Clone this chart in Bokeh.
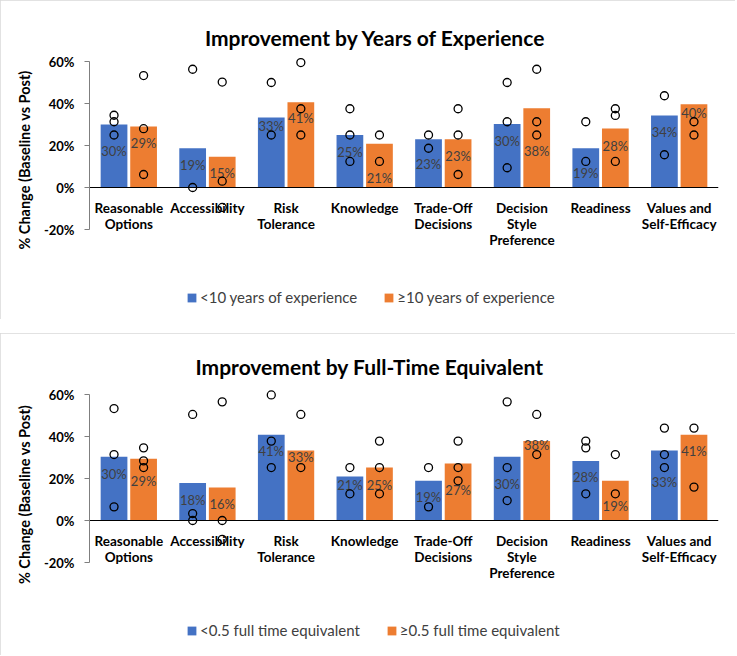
from bokeh.plotting import figure
from bokeh.models import (ColumnDataSource, FactorRange, Range1d, FixedTicker,
                          NumeralTickFormatter, CategoricalAxis, Legend, LegendItem,
                          Label)
from bokeh.transform import dodge
from bokeh.layouts import column
from bokeh.core.properties import value
from bokeh.embed import file_html
from bokeh.resources import INLINE

# ---------------- data ----------------
categories = ["Reasonable\nOptions", "Accessibility", "Risk\nTolerance", "Knowledge",
              "Trade-Off\nDecisions", "Decision\nStyle\nPreference", "Readiness",
              "Values and\nSelf-Efficacy"]
y_ticks = [-0.2, 0.0, 0.2, 0.4, 0.6]

# Chart 1: years of experience
exp_names = ["<10 years of experience", "\u226510 years of experience"]
exp_lt10 = [0.30, 0.187, 0.333, 0.25, 0.23, 0.302, 0.187, 0.343]
exp_ge10 = [0.29, 0.146, 0.406, 0.208, 0.23, 0.377, 0.281, 0.396]
exp_lt10_label_y = [0.176, 0.105, 0.292, 0.171, 0.113, 0.222, 0.07, 0.263]
exp_ge10_label_y = [0.21, 0.071, 0.329, 0.046, 0.149, 0.175, 0.20, 0.356]
exp_lt10_points = [[0.344, 0.313, 0.25], [0.563, 0.0], [0.50, 0.25], [0.375, 0.25, 0.124],
                   [0.25, 0.187], [0.50, 0.313, 0.094], [0.313, 0.124], [0.437, 0.156]]
exp_ge10_points = [[0.533, 0.28, 0.062], [0.502, 0.03, -0.095], [0.595, 0.375, 0.25],
                   [0.25, 0.124], [0.375, 0.25, 0.062], [0.563, 0.313, 0.25],
                   [0.375, 0.343, 0.124], [0.313, 0.25]]

# Chart 2: full-time equivalent
fte_names = ["<0.5 full time equivalent", "\u22650.5 full time equivalent"]
fte_lt05 = [0.303, 0.178, 0.408, 0.21, 0.189, 0.303, 0.283, 0.333]
fte_ge05 = [0.294, 0.157, 0.333, 0.252, 0.271, 0.378, 0.189, 0.408]
fte_lt05_label_y = [0.222, 0.10, 0.33, 0.171, 0.11, 0.173, 0.205, 0.184]
fte_ge05_label_y = [0.186, 0.078, 0.303, 0.171, 0.143, 0.359, 0.068, 0.329]
fte_lt05_points = [[0.533, 0.314, 0.065], [0.505, 0.033, 0.0], [0.598, 0.378, 0.252],
                   [0.252, 0.127], [0.252, 0.065], [0.565, 0.252, 0.095],
                   [0.378, 0.346, 0.127], [0.44, 0.314, 0.252]]
fte_ge05_points = [[0.346, 0.284, 0.252], [0.565, 0.0, -0.09], [0.505, 0.252],
                   [0.378, 0.252, 0.127], [0.378, 0.252, 0.189], [0.505, 0.314],
                   [0.314, 0.127], [0.44, 0.159]]

BLUE = "#4472C4"
ORANGE = "#ED7D31"
FONT = "Lato"
W = 735
FRAME_L, FRAME_R = 89, 718          # pixel edges of the plot area
Y60, YM20 = 61, 229                 # pixel rows of 60% and -20%
PX_PER_UNIT = (YM20 - Y60) / 0.8


def make_chart(title, names, bars_a, bars_b, lab_a, lab_b, pts_a, pts_b,
               height, title_cx, title_cy):
    top_px, bot_px = 8, height - 8
    y_end = 0.6 + (Y60 - top_px) / PX_PER_UNIT
    y_start = -0.2 - (bot_px - YM20) / PX_PER_UNIT
    p = figure(width=W, height=height,
               x_range=FactorRange(*categories, range_padding=0),
               y_range=Range1d(y_start, y_end),
               output_backend="svg", toolbar_location=None, x_axis_location=None,
               min_border_left=FRAME_L, min_border_right=W - FRAME_R,
               min_border_top=top_px, min_border_bottom=height - bot_px,
               background_fill_color="white", border_fill_color="white",
               styles={"outline": "1px solid #d9d9d9", "outline-offset": "-1px"})
    p.outline_line_color = None
    p.xgrid.visible = False
    p.ygrid.visible = False

    off = 0.188
    wid = 0.34
    src_a = ColumnDataSource(dict(cat=categories, top=bars_a, ly=lab_a,
                                  txt=[f"{v:.0%}" for v in bars_a]))
    src_b = ColumnDataSource(dict(cat=categories, top=bars_b, ly=lab_b,
                                  txt=[f"{v:.0%}" for v in bars_b]))
    ra = p.vbar(x=dodge("cat", -off, range=p.x_range), top="top", bottom=0, width=wid,
                source=src_a, fill_color=BLUE, line_color=None)
    rb = p.vbar(x=dodge("cat", off, range=p.x_range), top="top", bottom=0, width=wid,
                source=src_b, fill_color=ORANGE, line_color=None)

    for src, o in ((src_a, -off), (src_b, off)):
        p.text(x=dodge("cat", o, range=p.x_range), y="ly", text="txt", source=src,
               text_align="center", text_baseline="middle", text_font=value(FONT),
               text_font_size="13px", text_color="#404040")

    for pts, o in ((pts_a, -off), (pts_b, off)):
        xs, ys = [], []
        for c, vals in zip(categories, pts):
            for v in vals:
                xs.append(c)
                ys.append(v)
        ps = ColumnDataSource(dict(cat=xs, y=ys))
        p.scatter(x=dodge("cat", o, range=p.x_range), y="y", source=ps, marker="circle",
                  size=8, fill_color=None, line_color="black", line_width=1.3)

    # y axis
    ya = p.yaxis[0]
    ya.bounds = (-0.2, 0.6)
    ya.ticker = FixedTicker(ticks=y_ticks)
    ya.formatter = NumeralTickFormatter(format="0%")
    ya.minor_tick_line_color = None
    ya.major_tick_in = 0
    ya.major_tick_out = 5
    ya.axis_line_color = "#7f7f7f"
    ya.major_tick_line_color = "#7f7f7f"
    ya.major_label_text_font = FONT
    ya.major_label_text_font_style = "bold"
    ya.major_label_text_font_size = "13px"
    ya.major_label_text_color = "black"
    ya.major_label_standoff = 10
    ya.axis_label = "% Change (Baseline vs Post)"
    ya.axis_label_text_font = FONT
    ya.axis_label_text_font_style = "bold"
    ya.axis_label_text_font_size = "14.5px"
    ya.axis_label_text_color = "black"
    ya.axis_label_standoff = 8

    # x axis at zero
    xa = CategoricalAxis(fixed_location=0)
    xa.axis_line_color = "black"
    xa.axis_line_width = 1
    xa.major_tick_line_color = None
    xa.minor_tick_line_color = None
    xa.major_label_text_font = FONT
    xa.major_label_text_font_style = "bold"
    xa.major_label_text_font_size = "13.5px"
    xa.major_label_text_line_height = 1.0
    xa.major_label_text_color = "black"
    xa.major_label_standoff = 6
    p.add_layout(xa, "below")

    # title (centred on the whole chart area)
    tx = (title_cx - FRAME_L) / ((FRAME_R - FRAME_L) / len(categories))
    ty = 0.6 + (Y60 - title_cy) / PX_PER_UNIT
    p.add_layout(Label(x=tx, y=ty, text=title, text_align="center",
                       text_baseline="middle", text_font=FONT, text_font_style="bold",
                       text_font_size="21px", text_color="black"))

    legend = Legend(items=[LegendItem(label=names[0], renderers=[ra]),
                           LegendItem(label=names[1], renderers=[rb])],
                    orientation="horizontal", location=(186 - FRAME_L, bot_px - 306),
                    glyph_width=11, glyph_height=11, label_height=16,
                    label_standoff=3, spacing=26,
                    label_text_font=FONT, label_text_font_size="15px",
                    label_text_color="#404040", border_line_color=None,
                    background_fill_alpha=0, padding=0, margin=0)
    p.add_layout(legend, "center")
    return p


p1 = make_chart("Improvement by Years of Experience", exp_names, exp_lt10, exp_ge10,
                exp_lt10_label_y, exp_ge10_label_y, exp_lt10_points, exp_ge10_points,
                height=319, title_cx=375, title_cy=37)
p2 = make_chart("Improvement by Full-Time Equivalent", fte_names, fte_lt05, fte_ge05,
                fte_lt05_label_y, fte_ge05_label_y, fte_lt05_points, fte_ge05_points,
                height=322, title_cx=369, title_cy=33)

layout = column(p1, p2, spacing=14)
open("out.html", "w").write(file_html(layout, INLINE))
